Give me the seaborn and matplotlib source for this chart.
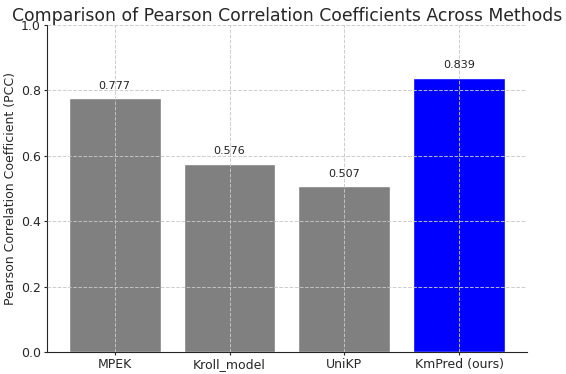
import pandas as pd
import seaborn as sns
import matplotlib.pyplot as plt

methods = ["MPEK", "Kroll_model", "UniKP", "KmPred (ours)"]
pcc = [0.777, 0.576, 0.507, 0.839]
bar_colors = ["gray", "gray", "gray", "blue"]

sns.set_style("ticks")
plt.rcParams['font.family'] = ['DejaVu Sans']

df = pd.DataFrame({"Method": methods, "PCC": pcc})

fig, ax = plt.subplots(figsize=(5.66, 3.74), dpi=100)
sns.barplot(data=df, x="Method", y="PCC", hue="Method", palette=bar_colors,
            legend=False, saturation=1, width=0.8, ax=ax)

# value labels above each bar
for p, v in zip(ax.patches, pcc):
    ax.text(p.get_x() + p.get_width() / 2, v + 0.022, f"{v:.3f}",
            ha="center", va="bottom", fontsize=8, color="#222222")

# matplotlib-style margins instead of seaborn's tight categorical limits
ax.set_xlim(-0.59, len(methods) - 1 + 0.59)
ax.set_ylim(0, 1.0)
ax.set_title("Comparison of Pearson Correlation Coefficients Across Methods",
             fontsize=12.4, pad=3)
ax.set_ylabel("Pearson Correlation Coefficient (PCC)", fontsize=9, labelpad=3)
ax.set_xlabel("")
ax.tick_params(labelsize=9, length=2.5, pad=2)
ax.grid(True, linestyle="--", color="#c8c8c8", linewidth=0.7, alpha=0.9)
ax.set_axisbelow(False)
sns.despine(ax=ax)

fig.subplots_adjust(left=0.083, right=0.931, top=0.933, bottom=0.059)
fig.savefig("out.png", dpi=100)
